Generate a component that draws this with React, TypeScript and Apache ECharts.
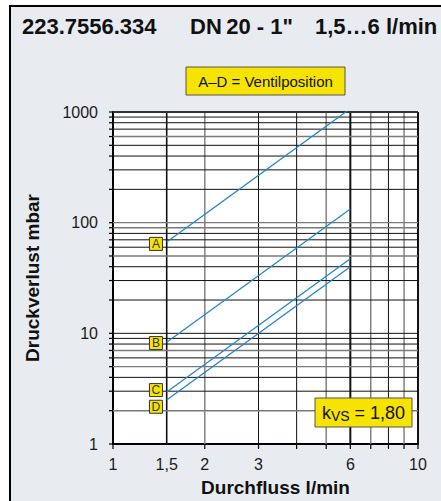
import React, { useEffect, useRef } from "react";
import * as echarts from "echarts";

// ---- data ----
const FLOW = [1.5, 6];
const LOSS_A = [67, 1072];
const LOSS_B = [8.3, 133];
const LOSS_C = [2.95, 47.2];
const LOSS_D = [2.5, 40];
const SERIES_NAMES = ["A", "B", "C", "D"];

const MARK_X = 1.383;
const MARK_Y = [64.3, 8.17, 3.07, 2.17];

const X_LABELS = [1, 1.5, 2, 3, 6, 10];
const X_TICKS = [1, 2, 3, 4, 5, 6, 7, 8, 9, 10];
const V_LINES = [1.5, 2, 3, 4, 5, 6, 7, 8, 9, 10];
const Y_TICKS = [1, 2, 3, 4, 5, 6, 7, 8, 9, 10, 20, 30, 40, 50, 60, 70, 80, 90, 100, 200, 300, 400, 500, 600, 700, 800, 900, 1000];
const H_LINES = [2, 3, 4, 5, 6, 7, 8, 9, 10, 20, 30, 40, 50, 60, 70, 80, 90, 100, 200, 300, 400, 500, 600, 700, 800, 900, 1000];

const TITLE_PARTS = ["223.7556.334", "DN\u200920 - 1\"", "1,5…6 l/min"];
const Y_NAME = "Druckverlust mbar";
const X_NAME = "Durchfluss l/min";
const LEGEND_TEXT = "A–D = Ventilposition";

// ---- styles ----
const FONT = '"Liberation Sans", Arial, Helvetica, sans-serif';
const BG = "#e8ebf0";
const YELLOW = "#f7e300";
const BLUE = "#2386cb";
const BLACK = "#111";
const GRAY = "#7a7a7a";

const V_STYLE: Record<number, [string, number]> = {
  1.5: [BLACK, 1.6], 2: [GRAY, 1.4], 3: [BLACK, 1], 4: [BLACK, 1], 5: [GRAY, 1.4],
  6: [BLACK, 2], 7: [GRAY, 1.4], 8: [BLACK, 1], 9: [GRAY, 1.4], 10: [BLACK, 2],
};
const GRAY_H = new Set([2, 5, 7, 50, 90, 100, 600]);

export default function App() {
  const ref = useRef<HTMLDivElement>(null);
  useEffect(() => {
    document.body.style.margin = "0";
    const chart = echarts.init(ref.current!, undefined, { renderer: "svg" });
    const lossSets = [LOSS_A, LOSS_B, LOSS_C, LOSS_D];

    const lineSeries = lossSets.map((arr, i) => ({
      type: "line",
      name: SERIES_NAMES[i],
      data: FLOW.map((f, j) => [f, arr[j]]),
      symbol: "none",
      clip: true,
      z: 5,
      lineStyle: { color: BLUE, width: 1.3 },
    }));

    const option: any = {
      animation: false,
      backgroundColor: "#fff",
      grid: { left: 113, top: 112, width: 305, height: 332, show: true, backgroundColor: "#fff", borderWidth: 0 },
      xAxis: {
        type: "log", logBase: 10, min: 1, max: 10,
        axisLine: { show: true, onZero: false, lineStyle: { color: "#000", width: 2 } },
        axisTick: { show: false }, axisLabel: { show: false }, splitLine: { show: false },
      },
      yAxis: {
        type: "log", logBase: 10, min: 1, max: 1000,
        axisLine: { show: true, onZero: false, lineStyle: { color: "#000", width: 2 } },
        axisTick: { show: false },
        axisLabel: { show: true, margin: 15, fontSize: 16, color: "#1a1a1a", fontFamily: FONT, formatter: (v: number) => String(Math.round(v)) },
        splitLine: { show: false },
      },
      graphic: [
        { type: "rect", z: -10, silent: true, shape: { x: 10, y: 6, width: 440, height: 500 }, style: { fill: BG, stroke: "#000", lineWidth: 2 } },
        { type: "text", x: 22, y: 26, z: 10, style: { text: TITLE_PARTS[0], align: "left", verticalAlign: "middle", fontSize: 22, fontWeight: "bold", fontFamily: FONT, fill: "#111" } },
        { type: "text", x: 190, y: 26, z: 10, style: { text: TITLE_PARTS[1], align: "left", verticalAlign: "middle", fontSize: 22, fontWeight: "bold", fontFamily: FONT, fill: "#111" } },
        { type: "text", x: 315, y: 26, z: 10, style: { text: TITLE_PARTS[2], align: "left", verticalAlign: "middle", fontSize: 22, fontWeight: "bold", fontFamily: FONT, fill: "#111" } },
        { type: "rect", z: 10, shape: { x: 186, y: 67, width: 159, height: 28 }, style: { fill: YELLOW, stroke: "#555", lineWidth: 1 } },
        { type: "text", x: 265.5, y: 81.5, z: 11, style: { text: LEGEND_TEXT, align: "center", verticalAlign: "middle", fontSize: 15, fontFamily: FONT, fill: "#111" } },
        { type: "rect", z: 10, shape: { x: 315, y: 398, width: 97, height: 29 }, style: { fill: YELLOW, stroke: "#555", lineWidth: 1 } },
        {
          type: "text", x: 363.5, y: 412.5, z: 11,
          style: {
            text: "{m|k}{s|VS}{m| = 1,80}", align: "center", verticalAlign: "middle",
            rich: {
              m: { fontSize: 18, fontFamily: FONT, fill: "#111" },
              s: { fontSize: 14, fontFamily: FONT, fill: "#111", padding: [7, 0, 0, 0] },
            },
          },
        },
        { type: "text", x: 32, y: 278, rotation: Math.PI / 2, z: 10, style: { text: Y_NAME, align: "center", verticalAlign: "middle", fontSize: 19, fontWeight: "bold", fontFamily: FONT, fill: "#111" } },
        { type: "text", x: 275.5, y: 487, z: 10, style: { text: X_NAME, align: "center", verticalAlign: "middle", fontSize: 19, fontWeight: "bold", fontFamily: FONT, fill: "#111" } },
      ],
      series: [
        {
          type: "custom", name: "vgrid", silent: true, z: 1,
          data: V_LINES.map((v) => [v, 1]),
          renderItem: (params: any, api: any) => {
            const x = api.value(0);
            const top = api.coord([x, 1000]);
            const bot = api.coord([x, 1]);
            const st = V_STYLE[x] || [BLACK, 1];
            return { type: "line", shape: { x1: top[0], y1: top[1], x2: top[0], y2: bot[1] }, style: { stroke: st[0], lineWidth: st[1] } };
          },
        },
        {
          type: "custom", name: "hgrid", silent: true, z: 1,
          data: H_LINES.map((v) => [1, v]),
          renderItem: (params: any, api: any) => {
            const y = api.value(1);
            const l = api.coord([1, y]);
            const r = api.coord([10, y]);
            const isTop = y >= 1000;
            const col = isTop ? "#333" : GRAY_H.has(y) ? GRAY : BLACK;
            const w = isTop ? 2 : GRAY_H.has(y) ? 1.4 : 1;
            return { type: "line", shape: { x1: l[0], y1: l[1], x2: r[0], y2: r[1] }, style: { stroke: col, lineWidth: w } };
          },
        },
        {
          type: "custom", name: "xticks", silent: true, z: 2,
          data: X_TICKS.map((v) => [v, 1]),
          renderItem: (params: any, api: any) => {
            const p = api.coord([api.value(0), 1]);
            return { type: "line", shape: { x1: p[0], y1: p[1], x2: p[0], y2: p[1] + 5 }, style: { stroke: "#000", lineWidth: 1.2 } };
          },
        },
        {
          type: "custom", name: "yticks", silent: true, z: 2,
          data: Y_TICKS.map((v) => [1, v]),
          renderItem: (params: any, api: any) => {
            const p = api.coord([1, api.value(1)]);
            return { type: "line", shape: { x1: p[0] - 4, y1: p[1], x2: p[0], y2: p[1] }, style: { stroke: "#000", lineWidth: 1.2 } };
          },
        },
        {
          type: "custom", name: "xlabels", silent: true, z: 2,
          data: X_LABELS.map((v) => [v, 1]),
          renderItem: (params: any, api: any) => {
            const v = api.value(0);
            const p = api.coord([v, 1]);
            return {
              type: "text", x: p[0], y: p[1] + 20,
              style: { text: String(v).replace(".", ","), align: "center", verticalAlign: "middle", fontSize: 16, fontFamily: FONT, fill: "#1a1a1a" },
            };
          },
        },
        ...lineSeries,
        {
          type: "scatter", name: "marks", silent: true, z: 6,
          data: MARK_Y.map((y, i) => ({ name: SERIES_NAMES[i], value: [MARK_X, y] })),
          symbol: "rect", symbolSize: [13, 13],
          itemStyle: { color: YELLOW, borderColor: "#333", borderWidth: 1, opacity: 1 },
          label: { show: true, position: "inside", formatter: "{b}", fontSize: 12, fontFamily: FONT, color: "#333" },
        },
      ],
    };
    chart.setOption(option);
    return () => chart.dispose();
  }, []);
  return <div ref={ref} style={{ width: 441, height: 501 }} />;
}
